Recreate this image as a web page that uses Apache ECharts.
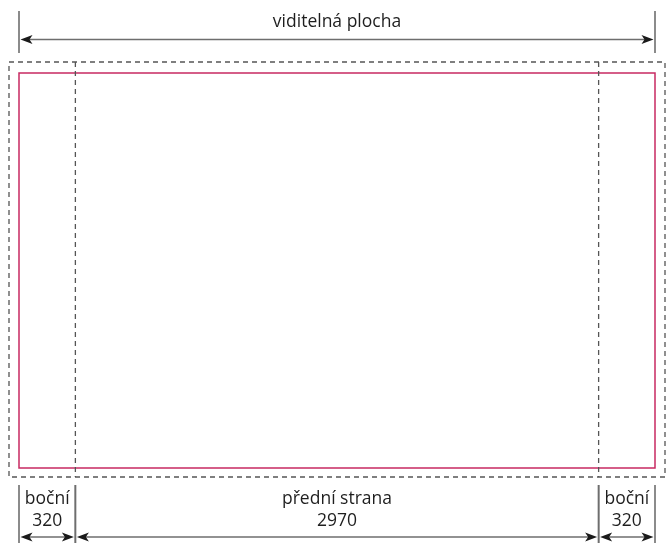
<!DOCTYPE html>
<html>
<head>
<meta charset="utf-8">
<script src="https://cdn.jsdelivr.net/npm/echarts@6/dist/echarts.min.js"></script>
<style>html,body{margin:0;padding:0;background:#fff}#c{width:667px;height:543px}</style>
</head>
<body>
<div id="c"></div>
<script>
// Section names and widths (mm)
const sectionNames = ['boční', 'přední strana', 'boční'];
const sectionWidths = [320, 2970, 320];
const totalLabel = 'viditelná plocha';

const starts = [];
let acc = 0;
sectionWidths.forEach(w => { starts.push(acc); acc += w; });
const total = acc;

const FONT = '"Open Sans", "Noto Sans", sans-serif';
const LINE = '#6e6e6e';
const ARROW = '#1a1a1a';
const TEXT = '#1e1e1e';

function arrowHead(x, y, dir) {
  // dir = 1 points right, -1 points left; tip at x
  return {
    type: 'polygon',
    shape: { points: [[x, y], [x - dir * 12, y - 4.5], [x - dir * 9, y], [x - dir * 12, y + 4.5]] },
    style: { fill: ARROW }
  };
}

function dimension(x0, x1, tickTop, tickBottom, yArrow, texts) {
  const children = [
    { type: 'line', shape: { x1: x0, y1: tickTop, x2: x0, y2: tickBottom }, style: { stroke: LINE, lineWidth: 1.6 } },
    { type: 'line', shape: { x1: x1, y1: tickTop, x2: x1, y2: tickBottom }, style: { stroke: LINE, lineWidth: 1.6 } },
    { type: 'line', shape: { x1: x0 + 6, y1: yArrow, x2: x1 - 6, y2: yArrow }, style: { stroke: LINE, lineWidth: 1.6 } },
    arrowHead(x0 + 1.5, yArrow, -1),
    arrowHead(x1 - 1.5, yArrow, 1)
  ];
  texts.forEach(t => {
    children.push({
      type: 'text',
      style: { text: t.text, x: (x0 + x1) / 2, y: t.y, fill: TEXT, font: '17.5px ' + FONT, align: 'center', verticalAlign: 'middle' }
    });
  });
  return children;
}

const chart = echarts.init(document.getElementById('c'), null, { renderer: 'canvas' });
chart.setOption({
  animation: false,
  grid: { left: 19, right: 12, top: 0, bottom: 0, containLabel: false },
  xAxis: { type: 'value', min: 0, max: total, show: false },
  yAxis: { type: 'value', min: 0, max: 1, show: false },
  series: [
    {
      // frame: red visible rect, dashed outer outline, dashed section boundaries
      type: 'custom',
      clip: false,
      data: [[0, total]],
      renderItem: function (params, api) {
        const x0 = api.coord([api.value(0), 0])[0];
        const x1 = api.coord([api.value(1), 0])[0];
        const children = [
          { type: 'rect', shape: { x: x0 - 10, y: 62, width: (x1 - x0) + 20, height: 415 },
            style: { fill: 'none', stroke: '#555', lineWidth: 1.3, lineDash: [5, 4] } },
          { type: 'rect', shape: { x: x0, y: 73, width: x1 - x0, height: 395 },
            style: { fill: 'none', stroke: '#c82a62', lineWidth: 1.5 } }
        ];
        for (let i = 1; i < starts.length; i++) {
          const xb = api.coord([starts[i], 0])[0];
          children.push({ type: 'line', shape: { x1: xb, y1: 62, x2: xb, y2: 477 },
            style: { stroke: '#555', lineWidth: 1.3, lineDash: [5, 4] } });
        }
        return { type: 'group', children: children };
      }
    },
    {
      // top overall dimension
      type: 'custom',
      clip: false,
      data: [[0, total]],
      renderItem: function (params, api) {
        const x0 = api.coord([api.value(0), 0])[0];
        const x1 = api.coord([api.value(1), 0])[0];
        return { type: 'group', children: dimension(x0, x1, 11, 53, 39.5, [{ text: totalLabel, y: 22 }]) };
      }
    },
    {
      // bottom section dimensions
      type: 'custom',
      clip: false,
      data: sectionNames.map((n, i) => [starts[i], starts[i] + sectionWidths[i], n, sectionWidths[i]]),
      dimensions: ['start', 'end', 'name', 'width'],
      renderItem: function (params, api) {
        const i = params.dataIndex;
        const x0 = api.coord([starts[i], 0])[0];
        const x1 = api.coord([starts[i] + sectionWidths[i], 0])[0];
        return { type: 'group', children: dimension(x0, x1, 485, 543, 537, [
          { text: sectionNames[i], y: 499 },
          { text: String(sectionWidths[i]), y: 521 }
        ]) };
      }
    }
  ]
});
</script>
</body>
</html>
